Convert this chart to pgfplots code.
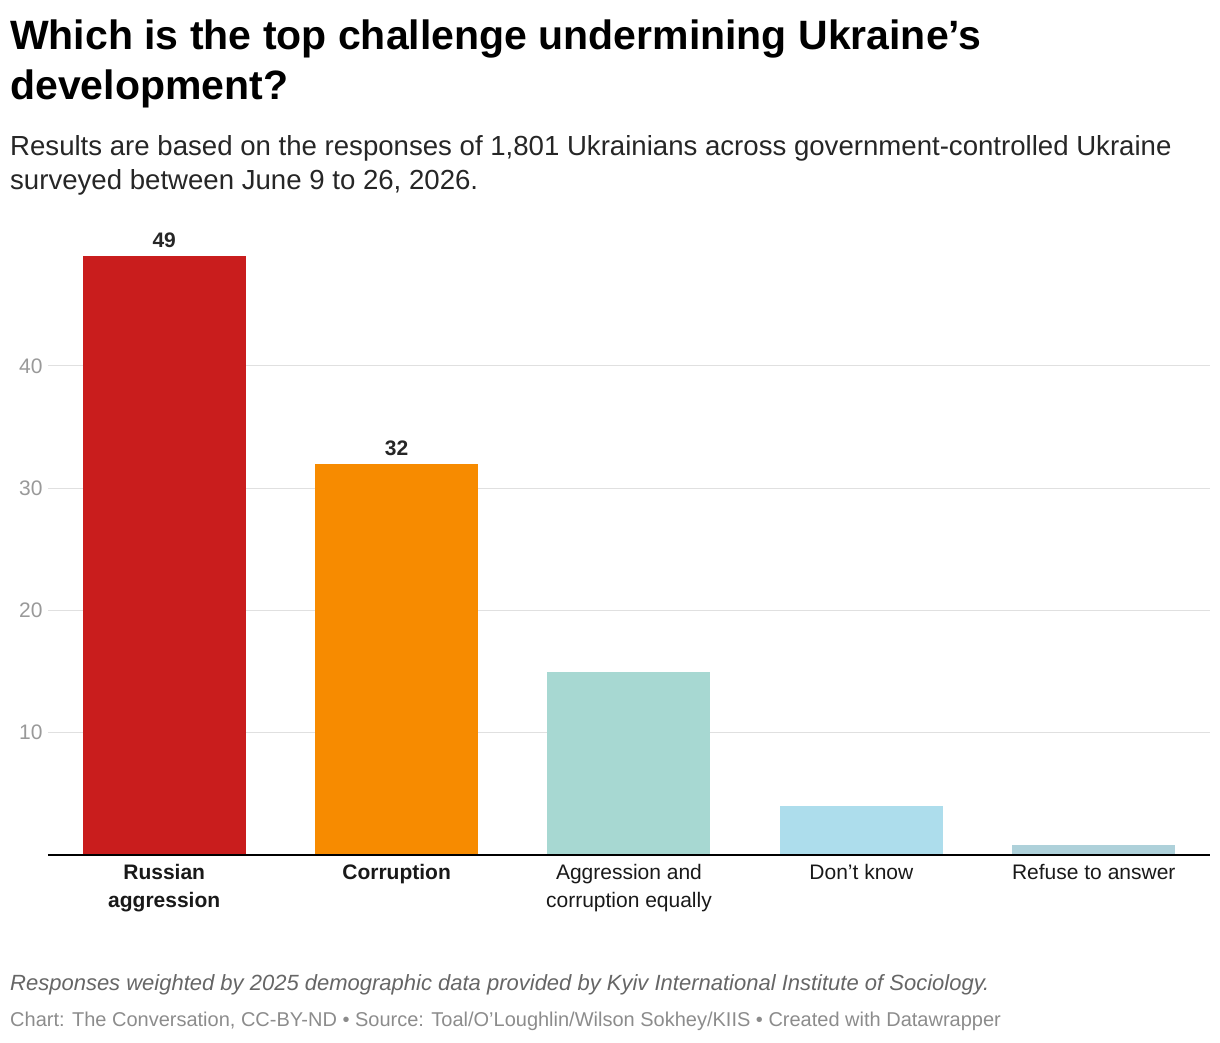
\documentclass[border=0pt]{standalone}
\usepackage{pgfplots}
\pgfplotsset{compat=1.18}
\usepackage{fontspec}
\setmainfont{Liberation Sans}
\definecolor{c1}{HTML}{C91D1D}
\definecolor{c2}{HTML}{F78B00}
\definecolor{c3}{HTML}{A7D8D2}
\definecolor{c4}{HTML}{ADDDEC}
\definecolor{c5}{HTML}{AED1DA}
\newcommand{\ap}{{\char"27}}
\begin{document}
\begin{tikzpicture}
\begin{axis}[
  scale only axis,
  width=1162pt, height=611.5pt,
  xmin=-0.5, xmax=4.5, ymin=0, ymax=50,
  axis line style={draw=none},
  ytick={10,20,30,40},
  yticklabel style={font=\fontsize{21}{24}\selectfont, color=black!40, xshift=-2pt},
  /pgf/number format/assume math mode=true,
  ymajorgrids, grid style={color=black!12, line width=1pt},
  major tick length=0pt,
  xtick={0,1,2,3,4},
  xticklabels={\textbf{Russian}\\\textbf{aggression},\textbf{Corruption},Aggression and\\corruption equally,Don\ap t know,Refuse to answer},
  xticklabel style={font=\fontsize{21}{28}\selectfont, align=center, anchor=north, yshift=-6pt, color=black!90},
  ybar, bar width=163pt, bar shift=0pt,
  clip=false,
]
\addplot[fill=c1,draw=none,nodes near coords,nodes near coords style={font=\fontsize{21}{24}\selectfont\bfseries,color=black!85,yshift=4pt}] coordinates {(0,49)};
\addplot[fill=c2,draw=none,nodes near coords,nodes near coords style={font=\fontsize{21}{24}\selectfont\bfseries,color=black!85,yshift=4pt}] coordinates {(1,32)};
\addplot[fill=c3,draw=none] coordinates {(2,15)};
\addplot[fill=c4,draw=none] coordinates {(3,4)};
\addplot[fill=c5,draw=none] coordinates {(4,0.8)};
\draw[black,line width=1.5pt] (axis cs:-0.5,0) -- (axis cs:4.5,0);
\path (rel axis cs:0,0) ++(-48pt,-187pt) rectangle ++(1220pt,1042pt);
\node[anchor=base west,inner sep=0,xshift=-38pt,yshift=805pt] at (rel axis cs:0,0) {\fontsize{41}{44}\selectfont\bfseries Which is the top challenge undermining Ukraine\ap s};
\node[anchor=base west,inner sep=0,xshift=-38pt,yshift=755pt] at (rel axis cs:0,0) {\fontsize{41}{44}\selectfont\bfseries development?};
\node[anchor=base west,inner sep=0,color=black!85,xshift=-38pt,yshift=699pt] at (rel axis cs:0,0) {\fontsize{27.6}{30}\selectfont Results are based on the responses of 1,801 Ukrainians across government-controlled Ukraine};
\node[anchor=base west,inner sep=0,color=black!85,xshift=-38pt,yshift=665pt] at (rel axis cs:0,0) {\fontsize{27.6}{30}\selectfont surveyed between June 9 to 26, 2026.};
\node[anchor=base west,inner sep=0,color=black!60,xshift=-38pt,yshift=-135pt] at (rel axis cs:0,0) {\fontsize{22}{26}\selectfont\itshape Responses weighted by 2025 demographic data provided by Kyiv International Institute of Sociology.};
\node[anchor=base west,inner sep=0,color=black!45,xshift=-38pt,yshift=-171pt] at (rel axis cs:0,0) {\fontsize{20}{24}\selectfont Chart: The Conversation, CC-BY-ND \textbullet\ Source: Toal/O\ap Loughlin/Wilson Sokhey/KIIS \textbullet\ Created with Datawrapper};
\end{axis}
\end{tikzpicture}
\end{document}
